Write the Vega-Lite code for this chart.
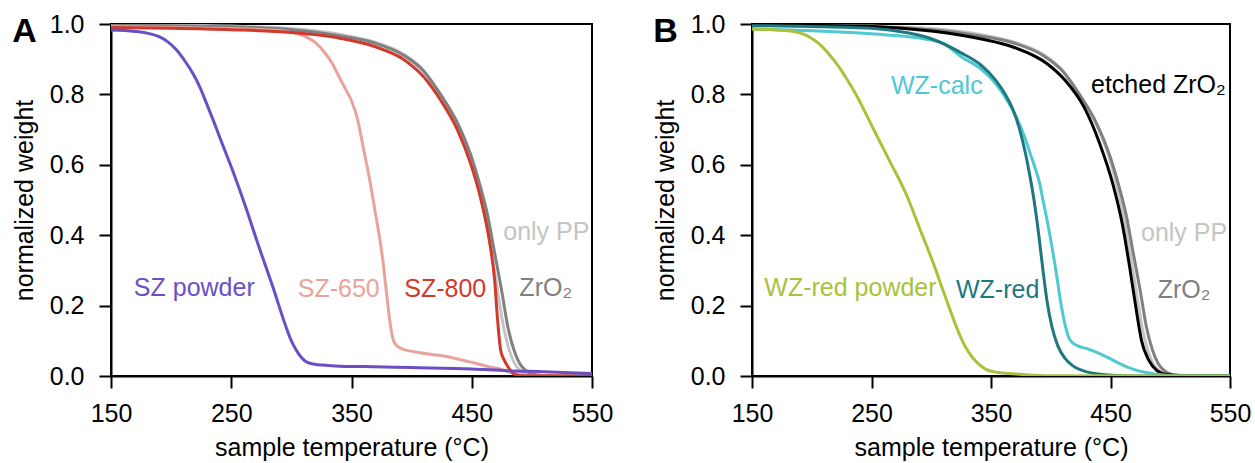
{
  "$schema": "https://vega.github.io/schema/vega-lite/v6.json",
  "padding": {"left": 11, "top": 11, "right": 5, "bottom": 5},
  "background": "white",
  "datasets": {
    "curves": [
      {"p":"both","s":"only PP","T":150,"w":0.998},{"p":"both","s":"only PP","T":200,"w":0.997},{"p":"both","s":"only PP","T":250,"w":0.994},{"p":"both","s":"only PP","T":300,"w":0.987},{"p":"both","s":"only PP","T":341,"w":0.97},{"p":"both","s":"only PP","T":369,"w":0.949},{"p":"both","s":"only PP","T":394,"w":0.913},{"p":"both","s":"only PP","T":410,"w":0.868},{"p":"both","s":"only PP","T":424,"w":0.8},{"p":"both","s":"only PP","T":438,"w":0.715},{"p":"both","s":"only PP","T":449,"w":0.62},{"p":"both","s":"only PP","T":456,"w":0.53},{"p":"both","s":"only PP","T":462,"w":0.44},{"p":"both","s":"only PP","T":467,"w":0.34},{"p":"both","s":"only PP","T":472,"w":0.23},{"p":"both","s":"only PP","T":477,"w":0.13},{"p":"both","s":"only PP","T":482,"w":0.065},{"p":"both","s":"only PP","T":487,"w":0.028},{"p":"both","s":"only PP","T":493,"w":0.01},{"p":"both","s":"only PP","T":500,"w":0.002},{"p":"both","s":"only PP","T":510,"w":0},{"p":"both","s":"only PP","T":550,"w":0},
      {"p":"both","s":"ZrO2","T":150,"w":0.997},{"p":"both","s":"ZrO2","T":200,"w":0.995},{"p":"both","s":"ZrO2","T":250,"w":0.992},{"p":"both","s":"ZrO2","T":300,"w":0.984},{"p":"both","s":"ZrO2","T":341,"w":0.966},{"p":"both","s":"ZrO2","T":369,"w":0.946},{"p":"both","s":"ZrO2","T":394,"w":0.91},{"p":"both","s":"ZrO2","T":410,"w":0.866},{"p":"both","s":"ZrO2","T":424,"w":0.8},{"p":"both","s":"ZrO2","T":438,"w":0.72},{"p":"both","s":"ZrO2","T":449,"w":0.63},{"p":"both","s":"ZrO2","T":457,"w":0.54},{"p":"both","s":"ZrO2","T":463,"w":0.46},{"p":"both","s":"ZrO2","T":469,"w":0.35},{"p":"both","s":"ZrO2","T":475,"w":0.24},{"p":"both","s":"ZrO2","T":480,"w":0.14},{"p":"both","s":"ZrO2","T":485,"w":0.075},{"p":"both","s":"ZrO2","T":490,"w":0.035},{"p":"both","s":"ZrO2","T":495,"w":0.015},{"p":"both","s":"ZrO2","T":502,"w":0.004},{"p":"both","s":"ZrO2","T":515,"w":0},{"p":"both","s":"ZrO2","T":550,"w":0},
      {"p":"A","s":"SZ-650","T":150,"w":0.992},{"p":"A","s":"SZ-650","T":200,"w":0.99},{"p":"A","s":"SZ-650","T":250,"w":0.987},{"p":"A","s":"SZ-650","T":280,"w":0.983},{"p":"A","s":"SZ-650","T":295,"w":0.979},{"p":"A","s":"SZ-650","T":305,"w":0.972},{"p":"A","s":"SZ-650","T":313,"w":0.962},{"p":"A","s":"SZ-650","T":320,"w":0.947},{"p":"A","s":"SZ-650","T":327,"w":0.922},{"p":"A","s":"SZ-650","T":334,"w":0.888},{"p":"A","s":"SZ-650","T":340,"w":0.848},{"p":"A","s":"SZ-650","T":345,"w":0.815},{"p":"A","s":"SZ-650","T":350,"w":0.782},{"p":"A","s":"SZ-650","T":355,"w":0.73},{"p":"A","s":"SZ-650","T":360,"w":0.645},{"p":"A","s":"SZ-650","T":365,"w":0.56},{"p":"A","s":"SZ-650","T":369,"w":0.48},{"p":"A","s":"SZ-650","T":373,"w":0.4},{"p":"A","s":"SZ-650","T":376,"w":0.33},{"p":"A","s":"SZ-650","T":379,"w":0.24},{"p":"A","s":"SZ-650","T":381,"w":0.18},{"p":"A","s":"SZ-650","T":383,"w":0.13},{"p":"A","s":"SZ-650","T":385,"w":0.1},{"p":"A","s":"SZ-650","T":388,"w":0.085},{"p":"A","s":"SZ-650","T":392,"w":0.077},{"p":"A","s":"SZ-650","T":402,"w":0.069},{"p":"A","s":"SZ-650","T":424,"w":0.058},{"p":"A","s":"SZ-650","T":440,"w":0.047},{"p":"A","s":"SZ-650","T":452,"w":0.037},{"p":"A","s":"SZ-650","T":465,"w":0.026},{"p":"A","s":"SZ-650","T":474,"w":0.019},{"p":"A","s":"SZ-650","T":483,"w":0.01},{"p":"A","s":"SZ-650","T":490,"w":0.004},{"p":"A","s":"SZ-650","T":500,"w":0.001},{"p":"A","s":"SZ-650","T":550,"w":0},
      {"p":"A","s":"SZ-800","T":150,"w":0.99},{"p":"A","s":"SZ-800","T":200,"w":0.988},{"p":"A","s":"SZ-800","T":250,"w":0.984},{"p":"A","s":"SZ-800","T":300,"w":0.976},{"p":"A","s":"SZ-800","T":341,"w":0.959},{"p":"A","s":"SZ-800","T":369,"w":0.936},{"p":"A","s":"SZ-800","T":394,"w":0.898},{"p":"A","s":"SZ-800","T":410,"w":0.85},{"p":"A","s":"SZ-800","T":424,"w":0.784},{"p":"A","s":"SZ-800","T":438,"w":0.7},{"p":"A","s":"SZ-800","T":449,"w":0.604},{"p":"A","s":"SZ-800","T":457.7,"w":0.5},{"p":"A","s":"SZ-800","T":464.6,"w":0.386},{"p":"A","s":"SZ-800","T":469,"w":0.273},{"p":"A","s":"SZ-800","T":471.5,"w":0.159},{"p":"A","s":"SZ-800","T":474,"w":0.074},{"p":"A","s":"SZ-800","T":477,"w":0.045},{"p":"A","s":"SZ-800","T":480,"w":0.027},{"p":"A","s":"SZ-800","T":485,"w":0.006},{"p":"A","s":"SZ-800","T":490,"w":0.001},{"p":"A","s":"SZ-800","T":550,"w":0},
      {"p":"A","s":"SZ powder","T":150,"w":0.983},{"p":"A","s":"SZ powder","T":170,"w":0.979},{"p":"A","s":"SZ powder","T":180,"w":0.974},{"p":"A","s":"SZ powder","T":190,"w":0.964},{"p":"A","s":"SZ powder","T":197,"w":0.95},{"p":"A","s":"SZ powder","T":204,"w":0.928},{"p":"A","s":"SZ powder","T":211,"w":0.897},{"p":"A","s":"SZ powder","T":218,"w":0.86},{"p":"A","s":"SZ powder","T":224,"w":0.82},{"p":"A","s":"SZ powder","T":229,"w":0.778},{"p":"A","s":"SZ powder","T":235,"w":0.727},{"p":"A","s":"SZ powder","T":240,"w":0.682},{"p":"A","s":"SZ powder","T":251,"w":0.585},{"p":"A","s":"SZ powder","T":262,"w":0.48},{"p":"A","s":"SZ powder","T":273,"w":0.367},{"p":"A","s":"SZ powder","T":284.5,"w":0.254},{"p":"A","s":"SZ powder","T":295.5,"w":0.14},{"p":"A","s":"SZ powder","T":300,"w":0.1},{"p":"A","s":"SZ powder","T":304,"w":0.074},{"p":"A","s":"SZ powder","T":308,"w":0.054},{"p":"A","s":"SZ powder","T":312,"w":0.041},{"p":"A","s":"SZ powder","T":318,"w":0.034},{"p":"A","s":"SZ powder","T":326,"w":0.031},{"p":"A","s":"SZ powder","T":340,"w":0.028},{"p":"A","s":"SZ powder","T":360,"w":0.027},{"p":"A","s":"SZ powder","T":400,"w":0.024},{"p":"A","s":"SZ powder","T":450,"w":0.02},{"p":"A","s":"SZ powder","T":480,"w":0.015},{"p":"A","s":"SZ powder","T":510,"w":0.012},{"p":"A","s":"SZ powder","T":550,"w":0.007},
      {"p":"B","s":"etched ZrO2","T":150,"w":0.997},{"p":"B","s":"etched ZrO2","T":200,"w":0.996},{"p":"B","s":"etched ZrO2","T":250,"w":0.993},{"p":"B","s":"etched ZrO2","T":300,"w":0.98},{"p":"B","s":"etched ZrO2","T":341,"w":0.958},{"p":"B","s":"etched ZrO2","T":369,"w":0.934},{"p":"B","s":"etched ZrO2","T":397,"w":0.887},{"p":"B","s":"etched ZrO2","T":412,"w":0.84},{"p":"B","s":"etched ZrO2","T":428,"w":0.763},{"p":"B","s":"etched ZrO2","T":441,"w":0.66},{"p":"B","s":"etched ZrO2","T":452,"w":0.545},{"p":"B","s":"etched ZrO2","T":460,"w":0.43},{"p":"B","s":"etched ZrO2","T":466,"w":0.31},{"p":"B","s":"etched ZrO2","T":471,"w":0.2},{"p":"B","s":"etched ZrO2","T":476,"w":0.1},{"p":"B","s":"etched ZrO2","T":482,"w":0.045},{"p":"B","s":"etched ZrO2","T":489,"w":0.015},{"p":"B","s":"etched ZrO2","T":497,"w":0.004},{"p":"B","s":"etched ZrO2","T":510,"w":0},{"p":"B","s":"etched ZrO2","T":550,"w":0},
      {"p":"B","s":"WZ-calc","T":150,"w":0.986},{"p":"B","s":"WZ-calc","T":200,"w":0.981},{"p":"B","s":"WZ-calc","T":250,"w":0.972},{"p":"B","s":"WZ-calc","T":290,"w":0.96},{"p":"B","s":"WZ-calc","T":310,"w":0.945},{"p":"B","s":"WZ-calc","T":325,"w":0.907},{"p":"B","s":"WZ-calc","T":340,"w":0.876},{"p":"B","s":"WZ-calc","T":354,"w":0.83},{"p":"B","s":"WZ-calc","T":365,"w":0.775},{"p":"B","s":"WZ-calc","T":372,"w":0.73},{"p":"B","s":"WZ-calc","T":378,"w":0.68},{"p":"B","s":"WZ-calc","T":383,"w":0.63},{"p":"B","s":"WZ-calc","T":387,"w":0.59},{"p":"B","s":"WZ-calc","T":390.5,"w":0.55},{"p":"B","s":"WZ-calc","T":393.5,"w":0.5},{"p":"B","s":"WZ-calc","T":396.5,"w":0.45},{"p":"B","s":"WZ-calc","T":399.3,"w":0.4},{"p":"B","s":"WZ-calc","T":404.3,"w":0.3},{"p":"B","s":"WZ-calc","T":408.8,"w":0.2},{"p":"B","s":"WZ-calc","T":412,"w":0.145},{"p":"B","s":"WZ-calc","T":415,"w":0.11},{"p":"B","s":"WZ-calc","T":418,"w":0.095},{"p":"B","s":"WZ-calc","T":423,"w":0.085},{"p":"B","s":"WZ-calc","T":431,"w":0.077},{"p":"B","s":"WZ-calc","T":440,"w":0.065},{"p":"B","s":"WZ-calc","T":448,"w":0.052},{"p":"B","s":"WZ-calc","T":456,"w":0.038},{"p":"B","s":"WZ-calc","T":464,"w":0.025},{"p":"B","s":"WZ-calc","T":472,"w":0.016},{"p":"B","s":"WZ-calc","T":481,"w":0.009},{"p":"B","s":"WZ-calc","T":490,"w":0.004},{"p":"B","s":"WZ-calc","T":500,"w":0.001},{"p":"B","s":"WZ-calc","T":510,"w":0},{"p":"B","s":"WZ-calc","T":550,"w":0},
      {"p":"B","s":"WZ-red","T":150,"w":0.995},{"p":"B","s":"WZ-red","T":200,"w":0.993},{"p":"B","s":"WZ-red","T":250,"w":0.988},{"p":"B","s":"WZ-red","T":280,"w":0.975},{"p":"B","s":"WZ-red","T":300,"w":0.958},{"p":"B","s":"WZ-red","T":325,"w":0.918},{"p":"B","s":"WZ-red","T":341,"w":0.885},{"p":"B","s":"WZ-red","T":354,"w":0.84},{"p":"B","s":"WZ-red","T":362,"w":0.8},{"p":"B","s":"WZ-red","T":368,"w":0.76},{"p":"B","s":"WZ-red","T":374,"w":0.7},{"p":"B","s":"WZ-red","T":379,"w":0.63},{"p":"B","s":"WZ-red","T":383,"w":0.56},{"p":"B","s":"WZ-red","T":386,"w":0.5},{"p":"B","s":"WZ-red","T":390,"w":0.4},{"p":"B","s":"WZ-red","T":393.5,"w":0.3},{"p":"B","s":"WZ-red","T":397,"w":0.21},{"p":"B","s":"WZ-red","T":401,"w":0.14},{"p":"B","s":"WZ-red","T":406,"w":0.085},{"p":"B","s":"WZ-red","T":412,"w":0.05},{"p":"B","s":"WZ-red","T":418,"w":0.03},{"p":"B","s":"WZ-red","T":428,"w":0.014},{"p":"B","s":"WZ-red","T":448,"w":0.003},{"p":"B","s":"WZ-red","T":470,"w":0},{"p":"B","s":"WZ-red","T":550,"w":0},
      {"p":"B","s":"WZ-red powder","T":150,"w":0.986},{"p":"B","s":"WZ-red powder","T":170,"w":0.983},{"p":"B","s":"WZ-red powder","T":180,"w":0.981},{"p":"B","s":"WZ-red powder","T":187,"w":0.977},{"p":"B","s":"WZ-red powder","T":193,"w":0.971},{"p":"B","s":"WZ-red powder","T":198,"w":0.963},{"p":"B","s":"WZ-red powder","T":206,"w":0.944},{"p":"B","s":"WZ-red powder","T":215,"w":0.912},{"p":"B","s":"WZ-red powder","T":223,"w":0.877},{"p":"B","s":"WZ-red powder","T":230,"w":0.84},{"p":"B","s":"WZ-red powder","T":237,"w":0.8},{"p":"B","s":"WZ-red powder","T":251,"w":0.706},{"p":"B","s":"WZ-red powder","T":265,"w":0.612},{"p":"B","s":"WZ-red powder","T":279,"w":0.517},{"p":"B","s":"WZ-red powder","T":290,"w":0.422},{"p":"B","s":"WZ-red powder","T":301,"w":0.327},{"p":"B","s":"WZ-red powder","T":312,"w":0.223},{"p":"B","s":"WZ-red powder","T":323.5,"w":0.119},{"p":"B","s":"WZ-red powder","T":329,"w":0.08},{"p":"B","s":"WZ-red powder","T":334.7,"w":0.052},{"p":"B","s":"WZ-red powder","T":340,"w":0.033},{"p":"B","s":"WZ-red powder","T":345.8,"w":0.019},{"p":"B","s":"WZ-red powder","T":354,"w":0.011},{"p":"B","s":"WZ-red powder","T":365,"w":0.007},{"p":"B","s":"WZ-red powder","T":378,"w":0.004},{"p":"B","s":"WZ-red powder","T":400,"w":0.001},{"p":"B","s":"WZ-red powder","T":550,"w":0}
    ],
    "labels": [
      {"p":"A","s":"SZ powder","label":"SZ powder","T":169,"w":0.227},
      {"p":"A","s":"SZ-650","label":"SZ-650","T":305.3,"w":0.225},
      {"p":"A","s":"SZ-800","label":"SZ-800","T":393.9,"w":0.224},
      {"p":"A","s":"ZrO2","label":"ZrO₂","T":489.6,"w":0.227},
      {"p":"A","s":"only PP","label":"only PP","T":476.2,"w":0.386},
      {"p":"B","s":"WZ-calc","label":"WZ-calc","T":266.3,"w":0.8},
      {"p":"B","s":"WZ-red powder","label":"WZ-red powder","T":160.3,"w":0.228},
      {"p":"B","s":"WZ-red","label":"WZ-red","T":320.7,"w":0.223},
      {"p":"B","s":"etched ZrO2","label":"etched ZrO₂","T":433.7,"w":0.803},
      {"p":"B","s":"only PP","label":"only PP","T":475.5,"w":0.384},
      {"p":"B","s":"ZrO2","label":"ZrO₂","T":489.5,"w":0.221}
    ]
  },
  "config": {
    "font": "Liberation Sans",
    "view": {"stroke": "black", "strokeWidth": 2},
    "axis": {
      "grid": false,
      "domainColor": "black",
      "domainWidth": 2,
      "tickColor": "black",
      "tickWidth": 2,
      "tickSize": 12,
      "labelFontSize": 25,
      "labelColor": "black",
      "labelFlush": false,
      "titleFontSize": 25,
      "titleFontWeight": "normal",
      "titleColor": "black"
    },
    "axisX": {"labelPadding": 13, "titlePadding": 9},
    "axisY": {"labelPadding": 15, "titlePadding": 12},
    "title": {"fontSize": 34, "fontWeight": "bold", "color": "black", "anchor": "start", "frame": "bounds", "baseline": "alphabetic", "offset": 0, "dy": 41, "dx": 0}
  },
  "bounds": "flush",
  "spacing": 160,
  "hconcat": [
    {
      "width": 481,
      "height": 352,
      "title": {"text": "A"},
      "layer": [
        {
          "data": {"name": "curves"},
          "transform": [{"filter": "datum.p === 'A' || datum.p === 'both'"}],
          "mark": {"type": "line", "strokeWidth": 3, "clip": true, "interpolate": "monotone"},
          "encoding": {
            "x": {"field": "T", "type": "quantitative", "scale": {"domain": [150, 550], "nice": false, "zero": false}, "axis": {"values": [150, 250, 350, 450, 550], "title": "sample temperature (°C)"}},
            "y": {"field": "w", "type": "quantitative", "scale": {"domain": [0, 1], "nice": false}, "axis": {"values": [0, 0.2, 0.4, 0.6, 0.8, 1.0], "format": ".1f", "title": "normalized weight"}},
            "color": {"field": "s", "type": "nominal", "legend": null, "scale": {"domain": ["only PP", "ZrO2", "SZ-650", "SZ-800", "SZ powder", "etched ZrO2", "WZ-calc", "WZ-red", "WZ-red powder"], "range": ["#c4c4c4", "#808080", "#e8a49a", "#d03a2c", "#6a4fc4", "#000000", "#4ec8d2", "#1d7880", "#a8c23a"]}}
          }
        },
        {
          "data": {"name": "labels"},
          "transform": [{"filter": "datum.p === 'A'"}],
          "mark": {"type": "text", "align": "left", "baseline": "alphabetic", "fontSize": 25},
          "encoding": {
            "x": {"field": "T", "type": "quantitative"},
            "y": {"field": "w", "type": "quantitative"},
            "text": {"field": "label"},
            "color": {"field": "s", "type": "nominal", "legend": null}
          }
        }
      ]
    },
    {
      "width": 478,
      "height": 352,
      "title": {"text": "B"},
      "layer": [
        {
          "data": {"name": "curves"},
          "transform": [{"filter": "datum.p === 'B' || datum.p === 'both'"}],
          "mark": {"type": "line", "strokeWidth": 3, "clip": true, "interpolate": "monotone"},
          "encoding": {
            "x": {"field": "T", "type": "quantitative", "scale": {"domain": [150, 550], "nice": false, "zero": false}, "axis": {"values": [150, 250, 350, 450, 550], "title": "sample temperature (°C)"}},
            "y": {"field": "w", "type": "quantitative", "scale": {"domain": [0, 1], "nice": false}, "axis": {"values": [0, 0.2, 0.4, 0.6, 0.8, 1.0], "format": ".1f", "title": "normalized weight"}},
            "color": {"field": "s", "type": "nominal", "legend": null, "scale": {"domain": ["only PP", "ZrO2", "SZ-650", "SZ-800", "SZ powder", "etched ZrO2", "WZ-calc", "WZ-red", "WZ-red powder"], "range": ["#c4c4c4", "#808080", "#e8a49a", "#d03a2c", "#6a4fc4", "#000000", "#4ec8d2", "#1d7880", "#a8c23a"]}}
          }
        },
        {
          "data": {"name": "labels"},
          "transform": [{"filter": "datum.p === 'B'"}],
          "mark": {"type": "text", "align": "left", "baseline": "alphabetic", "fontSize": 25},
          "encoding": {
            "x": {"field": "T", "type": "quantitative"},
            "y": {"field": "w", "type": "quantitative"},
            "text": {"field": "label"},
            "color": {"field": "s", "type": "nominal", "legend": null}
          }
        }
      ]
    }
  ]
}
